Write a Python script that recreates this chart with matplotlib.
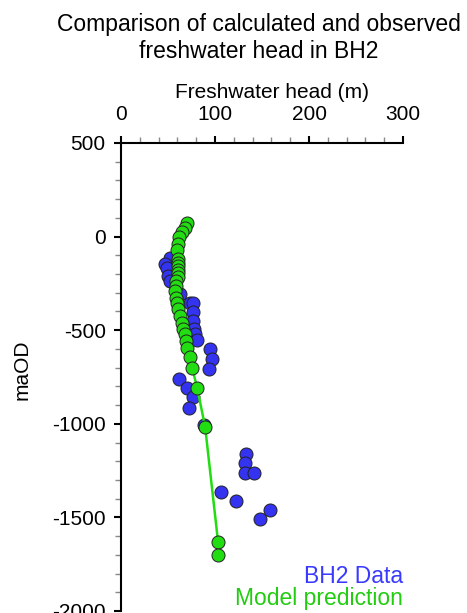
import matplotlib
matplotlib.use("Agg")
import matplotlib.pyplot as plt
from matplotlib.ticker import MultipleLocator

plt.rcParams['font.family'] = ['Liberation Sans', 'DejaVu Sans']
plt.rcParams['axes.unicode_minus'] = False

# Observed data (BH2): freshwater head (m), elevation (maOD)
obs_head = [52.0, 46.7, 48.5, 50.2, 52.0, 62.6, 73.2, 76.8, 76.8, 76.8,
            77.8, 78.6, 80.4, 95.0, 96.3, 93.4, 61.9, 70.4, 76.8, 72.2, 88.1,
            133.4, 131.6, 132.4, 141.5, 106.9, 122.1, 158.2, 148.3]
obs_elev = [-112, -148, -166, -211, -237, -309, -353, -357, -403, -451,
            -496, -522, -553, -603, -656, -706, -759, -807, -858, -914, -1009,
            -1160, -1209, -1262, -1262, -1364, -1410, -1458, -1508]

# Model prediction
mod_head = [70.4, 67.9, 64.4, 61.6, 60.2, 59.8, 60.2, 60.2, 60.2, 60.2, 60.2,
            60.2, 59.0, 58.1, 57.3, 58.1, 59.1, 60.8, 62.6, 64.4, 66.1, 67.9,
            68.7, 69.7, 73.2, 75.7, 81.0, 89.5, 103.3, 103.3]
mod_elev = [71, 48, 27, -2, -37, -72, -121, -140, -159, -178, -196,
            -215, -237, -264, -291, -326, -353, -389, -425, -460, -496, -522,
            -558, -594, -642, -701, -808, -1016, -1633, -1699]

title = "Comparison of calculated and observed\nfreshwater head in BH2"
x_label = "Freshwater head (m)"
y_label = "maOD"
legend_labels = ["BH2 Data", "Model prediction"]

blue = "#3333f0"
green = "#22dd11"

W, H = 467, 613
fig = plt.figure(figsize=(W / 100, H / 100), dpi=100)
ax = fig.add_axes([121 / W, 2 / H, (403 - 121) / W, (611 - 143) / H])

ax.scatter(obs_head, obs_elev, s=88, color=blue, edgecolors="#222222",
           linewidths=0.7, zorder=3, clip_on=False)
ax.plot(mod_head, mod_elev, color=green, lw=1.8, zorder=4)
ax.scatter(mod_head, mod_elev, s=88, color=green, edgecolors="#222222",
           linewidths=0.7, zorder=5, clip_on=False)

ax.set_xlim(0, 300)
ax.set_ylim(-2000, 500)
ax.xaxis.set_major_locator(MultipleLocator(100))
ax.xaxis.set_minor_locator(MultipleLocator(20))
ax.yaxis.set_major_locator(MultipleLocator(500))
ax.yaxis.set_minor_locator(MultipleLocator(100))

ax.xaxis.tick_top()
ax.xaxis.set_label_position("top")
for s in ["bottom", "right"]:
    ax.spines[s].set_visible(False)
for s in ["top", "left"]:
    ax.spines[s].set_linewidth(1.5)

ax.tick_params(which="major", direction="out", length=5, width=1.5,
               labelsize=15, color="black")
ax.tick_params(axis="x", which="major", pad=9)
ax.tick_params(axis="y", which="major", pad=6)
ax.tick_params(which="minor", direction="out", length=4, width=1,
               color="#888888")

ax.set_xlabel(x_label, fontsize=15, va="baseline")
ax.xaxis.set_label_coords((272 - 121) / 282, (611 - 98) / 468)
ax.set_ylabel(y_label, fontsize=15, va="center")
ax.yaxis.set_label_coords((22.5 - 121) / 282, (611 - 370) / 468)

fig.text(259 / W, 1 - 13 / H, title, ha="center", va="top", fontsize=16.5,
         linespacing=1.25)

ax.text(1.0, (611 - 583) / 468, legend_labels[0], color="#3a3aff",
        fontsize=16.5, ha="right", va="baseline", transform=ax.transAxes,
        clip_on=False)
ax.text(1.0, (611 - 605) / 468, legend_labels[1], color="#22cc11",
        fontsize=16.5, ha="right", va="baseline", transform=ax.transAxes,
        clip_on=False)

fig.savefig("out.png", dpi=100)
